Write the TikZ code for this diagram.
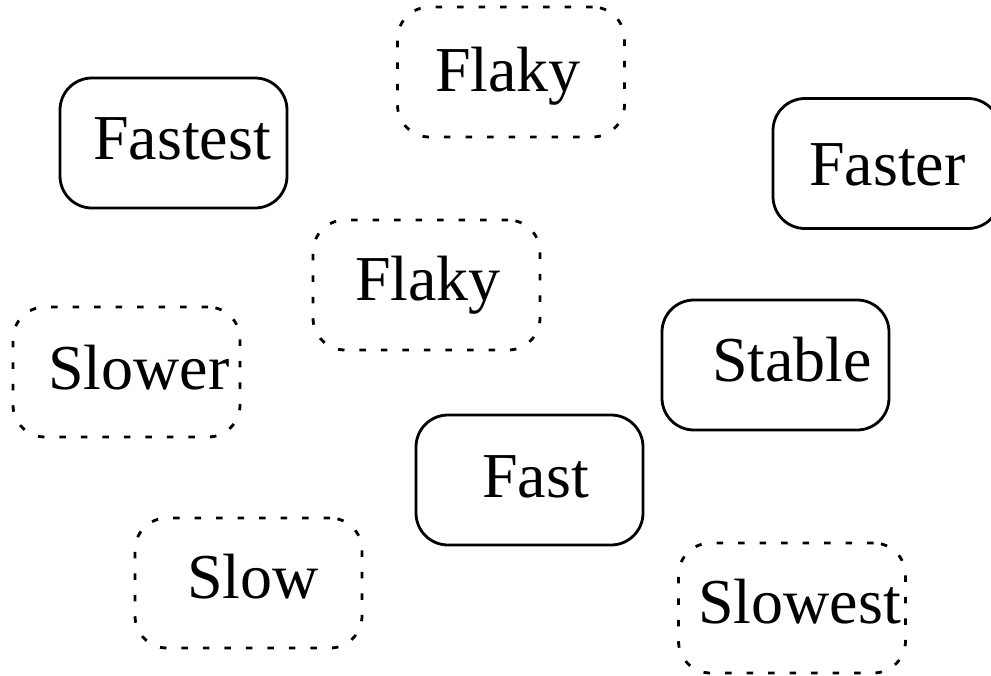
\documentclass[tikz,border=0pt]{standalone}
\usepackage{fontspec}
\setmainfont{Liberation Serif}
\begin{document}
\begin{tikzpicture}[x=1pt,y=-1pt,
  box/.style={draw, line width=2.8pt, rounded corners=32pt, minimum width=227pt, minimum height=130pt, inner sep=0pt},
  solidbox/.style={box},
  dotbox/.style={box, dash pattern=on 6.5pt off 15pt},
  lbl/.style={anchor=base west, inner sep=0pt, font=\fontsize{64}{70}\selectfont}]
\clip (0,0) rectangle (991,675);
\useasboundingbox (0,0) rectangle (991,675);
\node[solidbox] (fastestbox) at (173.5,143) {};
\node[dotbox] (flakyabox) at (511,72) {};
\node[solidbox] (fasterbox) at (886.5,163.5) {};
\node[dotbox] (flakybbox) at (426.5,285) {};
\node[dotbox] (slowerbox) at (126.5,372) {};
\node[solidbox] (stablebox) at (775.5,365) {};
\node[solidbox] (fastbox) at (529.5,480) {};
\node[dotbox] (slowbox) at (248.5,583) {};
\node[dotbox] (slowestbox) at (792,608) {};
\node[lbl] (fastest) at (93,159) {Fastest};
\node[lbl] (flakya) at (435,91) {Flaky};
\node[lbl] (faster) at (809,185) {Faster};
\node[lbl] (flakyb) at (355,300) {Flaky};
\node[lbl] (slower) at (48,389) {Slower};
\node[lbl] (stable) at (712,381) {Stable};
\node[lbl] (fast) at (482,497) {Fast};
\node[lbl] (slow) at (187,598) {Slow};
\node[lbl] (slowest) at (698,623) {Slowest};
\end{tikzpicture}
\end{document}
